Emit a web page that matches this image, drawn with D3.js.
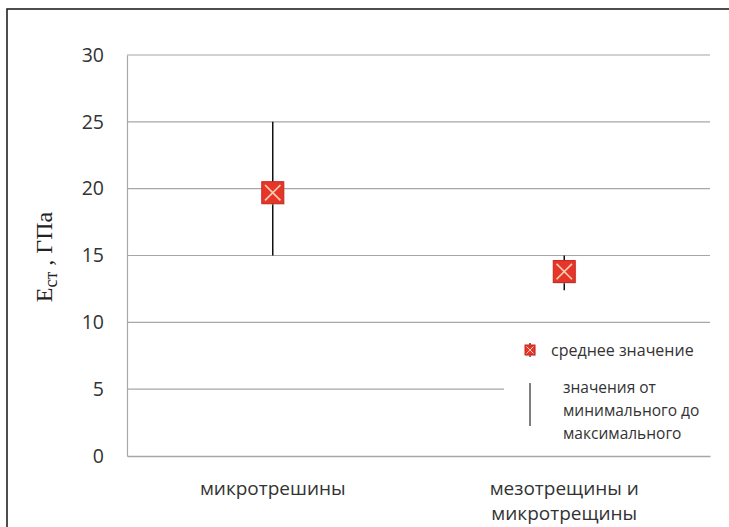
<!DOCTYPE html>
<html>
<head>
<meta charset="utf-8">
<script src="https://cdn.jsdelivr.net/npm/d3@7"></script>
<style>
  html, body { margin: 0; padding: 0; background: #fff; }
  svg { display: block; }
</style>
</head>
<body>
<svg id="chart" width="729" height="527"></svg>
<script>
// Categories and their modulus values (GPa)
const categories = ["микротрешины", "мезотрещины и\nмикротрещины"];
const meanValues = [19.7, 13.8];
const minValues = [15, 12.4];
const maxValues = [25, 15];
const yTicks = [0, 5, 10, 15, 20, 25, 30];

const svg = d3.select("#chart");
const W = 729, H = 527;
const margin = { left: 127, right: 19, top: 55, bottom: 71 };
const sans = "'Open Sans', 'Noto Sans', sans-serif";

// outer frame
svg.append("rect")
  .attr("x", 7).attr("y", 9)
  .attr("width", W + 10).attr("height", H + 10)
  .attr("fill", "#fff").attr("stroke", "#222").attr("stroke-width", 1.6);

const x = d3.scaleBand()
  .domain(categories)
  .range([margin.left, W - margin.right])
  .paddingInner(0).paddingOuter(0);

const y = d3.scaleLinear()
  .domain([0, 30])
  .range([H - margin.bottom, margin.top]);

// horizontal gridlines
const grid = svg.append("g");
grid.selectAll("line")
  .data(yTicks.filter(d => d > 0))
  .join("line")
  .attr("x1", margin.left)
  .attr("x2", d => d === 5 ? 504 : W - margin.right)
  .attr("y1", d => y(d)).attr("y2", d => y(d))
  .attr("stroke", "#a4a8a8").attr("stroke-width", 1.2);

// y axis
const yAxis = svg.append("g")
  .attr("transform", `translate(${margin.left},0)`)
  .call(d3.axisLeft(y).tickValues(yTicks).tickSize(0).tickPadding(23));
yAxis.select(".domain").attr("stroke", "#a4a8a8").attr("stroke-width", 1.2);
yAxis.selectAll("text")
  .attr("font-family", sans)
  .attr("font-size", 19.5).attr("fill", "#333");

// x axis
const xAxis = svg.append("g")
  .attr("transform", `translate(0,${y(0)})`)
  .call(d3.axisBottom(x).tickSize(0).tickFormat(""));
xAxis.select(".domain").attr("stroke", "#a4a8a8").attr("stroke-width", 1.4);

// category labels (multi-line)
svg.append("g").selectAll("text")
  .data(categories)
  .join("text")
  .attr("x", d => x(d) + x.bandwidth() / 2)
  .attr("y", 495)
  .attr("text-anchor", "middle")
  .attr("font-family", sans)
  .attr("font-size", 19).attr("fill", "#333")
  .each(function (d) {
    const lines = d.split("\n");
    d3.select(this).selectAll("tspan")
      .data(lines)
      .join("tspan")
      .attr("x", x(d) + x.bandwidth() / 2)
      .attr("dy", (l, i) => i === 0 ? 0 : 25)
      .text(l => l);
  });

// y axis title: E_ст, ГПа
const yTitle = svg.append("text")
  .attr("transform", "translate(52,257) rotate(-90)")
  .attr("text-anchor", "middle")
  .attr("font-family", "'Liberation Serif', 'DejaVu Serif', serif")
  .attr("font-size", 24).attr("fill", "#222");
yTitle.append("tspan").text("E");
yTitle.append("tspan").attr("font-size", 18).attr("dy", 5).text("ст");
yTitle.append("tspan").attr("dy", -5).text(" ,  ГПа");

// min-max range lines
const cx = i => x(categories[i]) + x.bandwidth() / 2;
svg.append("g").selectAll("line")
  .data(categories.map((c, i) => i))
  .join("line")
  .attr("x1", cx).attr("x2", cx)
  .attr("y1", i => y(maxValues[i]))
  .attr("y2", i => y(minValues[i]))
  .attr("stroke", "#111").attr("stroke-width", 1.5);

// mean marker: red square with light cross
function marker(g, size) {
  const h = size / 2;
  g.append("rect")
    .attr("x", -h + 1).attr("y", -h + 1.5)
    .attr("width", size).attr("height", size)
    .attr("fill", "#9fd3c8").attr("opacity", 0.35);
  g.append("rect")
    .attr("x", -h).attr("y", -h)
    .attr("width", size).attr("height", size)
    .attr("fill", "#e8352a").attr("stroke", "#c8281f").attr("stroke-width", 1);
  const k = h * 0.7;
  g.append("path")
    .attr("d", `M${-k},${-k}L${k},${k}M${k},${-k}L${-k},${k}`)
    .attr("stroke", "#f8cfb0").attr("stroke-width", Math.max(1, size / 13));
}

categories.forEach((c, i) => {
  const g = svg.append("g").attr("transform", `translate(${cx(i)},${y(meanValues[i])})`);
  marker(g, 22);
});

// legend
const legend = svg.append("g");
legend.append("rect")
  .attr("x", 508).attr("y", 333).attr("width", 200).attr("height", 112)
  .attr("fill", "#fff");
const lm = legend.append("g").attr("transform", "translate(530,350)");
lm.append("line").attr("x1", 0).attr("x2", 0).attr("y1", -7).attr("y2", 7)
  .attr("stroke", "#111").attr("stroke-width", 1.2);
marker(lm, 10);
legend.append("text")
  .attr("x", 551).attr("y", 356)
  .attr("font-family", sans)
  .attr("font-size", 16).attr("fill", "#333")
  .text("среднее значение");
legend.append("line")
  .attr("x1", 530).attr("x2", 530).attr("y1", 383).attr("y2", 426)
  .attr("stroke", "#555").attr("stroke-width", 1.5);
const rangeText = ["значения от", "минимального до", "максимального"];
legend.append("text")
  .attr("font-family", sans)
  .attr("font-size", 15.5).attr("fill", "#333")
  .selectAll("tspan").data(rangeText).join("tspan")
  .attr("x", 563).attr("y", (d, i) => 393 + i * 23)
  .text(d => d);
</script>
</body>
</html>
